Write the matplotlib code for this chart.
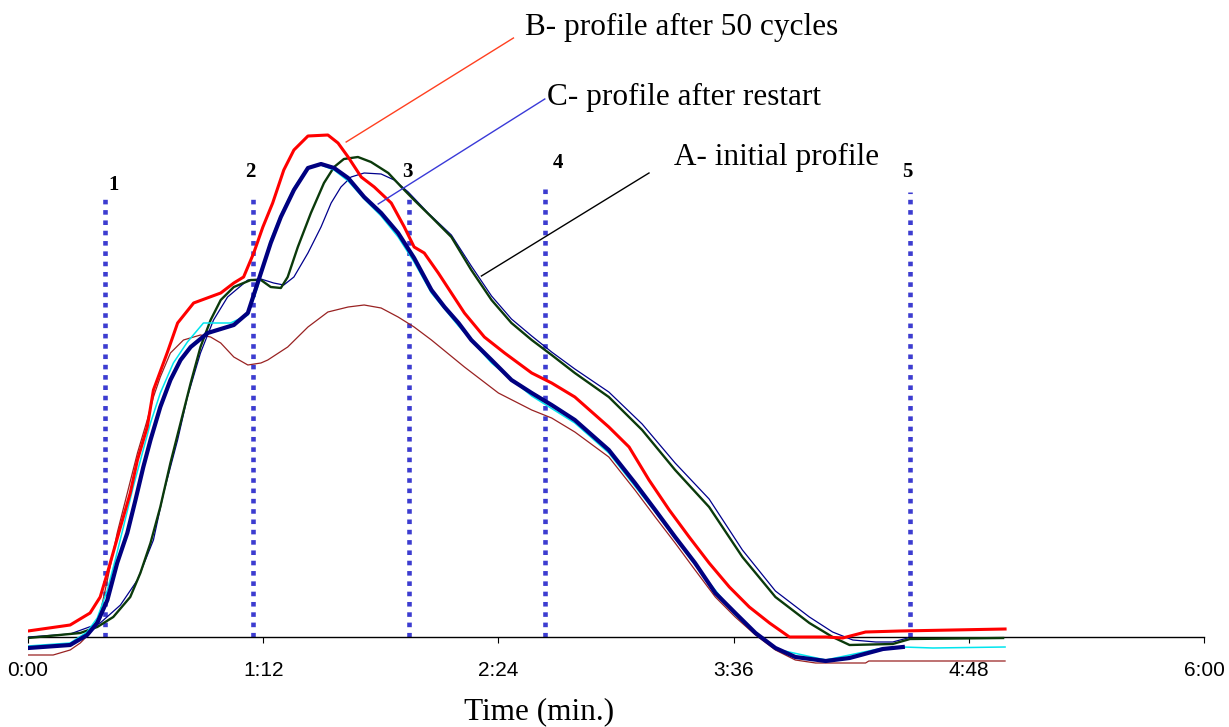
import matplotlib
matplotlib.use("Agg")
import matplotlib.pyplot as plt
from matplotlib.ticker import FuncFormatter, MultipleLocator

# ---- data (time in seconds, signal in arbitrary units) ----
red_t = [0, 12.9, 19.0, 22.1, 24.3, 28.3, 31.3, 33.5, 36.5, 38.4, 42.7, 45.8, 50.7, 59.0,
         63.0, 66.0, 69.1, 71.9, 74.9, 78.3, 81.4, 85.7, 91.8, 94.9, 98.0, 102.0, 106.0,
         111.2, 115.2, 118.2, 121.3, 125.6, 129.6, 133.6, 139.7, 145.9, 154.2, 160.3, 167.4,
         177.8, 184.0, 190.1, 196.3, 202.4, 208.5, 214.7, 220.8, 227.0, 233.1, 244.2, 249.4,
         256.4, 266.9, 299.1]
red_v = [1.2, 2.4, 4.8, 8.0, 12.8, 22.0, 28.8, 35.4, 42.0, 49.4, 57.0, 62.8, 66.8, 68.8,
         70.8, 72.0, 76.8, 82.0, 86.8, 93.4, 97.4, 100.2, 100.4, 98.8, 96.0, 92.0, 90.0,
         86.8, 82.0, 78.0, 76.8, 72.8, 68.8, 64.8, 60.0, 56.8, 52.8, 50.8, 48.0,
         42.0, 38.0, 31.4, 25.4, 20.0, 14.8, 10.0, 6.0, 2.8, 0.0, 0.0, -0.2,
         1.0, 1.2, 1.6]

navy_t = [0, 12.9, 18.1, 21.2, 24.3, 27.3, 30.4, 32.9, 35.3, 37.5, 40.5, 43.6, 46.7, 49.8,
          55.0, 63.0, 67.3, 71.3, 74.3, 77.4, 81.4, 85.7, 89.7, 93.7, 98.0, 102.9, 108.1,
          113.3, 118.2, 123.5, 127.5, 131.8, 135.7, 141.9, 148.0, 154.2, 160.3, 167.4, 177.8,
          185.8, 192.0, 198.1, 204.2, 210.4, 216.5, 222.7, 228.8, 234.9, 244.2, 251.5, 261.7,
          267.8]
navy_v = [-2.2, -1.6, 0.4, 2.8, 7.4, 14.8, 20.8, 27.4, 34.0, 39.4, 46.0, 51.4, 55.4, 58.0,
          60.8, 62.4, 64.8, 72.8, 78.8, 84.0, 89.4, 93.8, 94.6, 93.8, 91.8, 88.0, 84.8,
          80.8, 75.8, 69.4, 66.0, 62.8, 59.4, 55.4, 51.4, 48.8, 46.4, 43.4, 37.4,
          30.8, 25.4, 20.0, 14.8, 8.8, 4.8, 0.8, -2.2, -4.0, -4.8, -4.2, -2.4,
          -2.0]

cyan_t = [0, 12.9, 18.1, 21.2, 24.3, 26.7, 29.2, 32.2, 37.5, 40.5, 44.5, 48.8, 53.7, 62.0,
          67.3, 70.3, 74.3, 77.4, 81.4, 85.7, 89.7, 93.7, 98.0, 102.9, 108.1, 113.3, 118.2,
          123.5, 131.8, 141.9, 154.2, 167.4, 177.8, 192.0, 204.2, 216.5, 228.8, 244.2, 261.7,
          267.8, 277.0, 299.1]
cyan_v = [-1.8, -1.2, 1.0, 3.8, 9.4, 15.4, 22.0, 30.0, 42.8, 48.8, 54.8, 59.0, 62.8, 62.8,
          64.4, 70.0, 79.4, 84.4, 89.8, 94.0, 94.4, 93.4, 91.2, 87.6, 84.2, 80.0, 75.0,
          68.8, 62.2, 54.8, 48.2, 42.8, 36.8, 25.0, 14.4, 4.4, -2.4, -4.6, -2.2,
          -2.0, -2.2, -2.0]

green_t = [0, 16.0, 21.2, 26.1, 31.3, 34.4, 37.5, 40.5, 43.6, 46.7, 49.8, 52.8, 55.9, 59.0,
           63.0, 68.2, 71.3, 74.3, 77.4, 79.5, 82.6, 86.6, 90.6, 93.7, 96.7, 101.0, 105.0,
           110.3, 114.3, 118.2, 123.5, 129.6, 135.7, 141.9, 148.0, 154.2, 160.3, 167.4, 177.8,
           188.0, 198.1, 208.5, 218.7, 228.8, 239.2, 246.3, 251.5, 264.7, 270.0, 298.5]
green_v = [-0.2, 0.8, 2.0, 4.0, 8.0, 12.8, 18.8, 26.0, 34.8, 42.8, 50.8, 58.0, 63.4, 67.4,
           70.0, 71.4, 71.4, 70.0, 69.8, 72.0, 78.0, 84.8, 90.8, 94.0, 95.6, 96.0, 95.0,
           92.8, 90.0, 87.4, 84.0, 80.0, 73.4, 67.4, 62.8, 59.4, 56.4, 52.8, 48.0,
           41.4, 33.4, 26.0, 16.0, 8.0, 2.8, 0.0, -1.6, -1.4, -0.4, -0.2]

blue_t = [0, 12.9, 22.1, 28.3, 33.5, 38.4, 41.5, 45.8, 48.8, 52.8, 56.8, 61.1, 67.3, 71.3,
          75.2, 78.3, 81.4, 85.7, 89.7, 92.8, 95.8, 98.9, 102.9, 108.1, 112.1, 116.4, 122.5,
          129.6, 135.7, 141.9, 148.0, 154.2, 160.3, 167.4, 177.8, 188.0, 198.1, 208.5, 218.7,
          228.8, 239.2, 246.3, 252.5, 259.5, 264.7, 269.3]
blue_v = [0.0, 0.6, 2.8, 6.4, 11.4, 19.4, 28.8, 39.4, 48.0, 56.8, 63.4, 68.0, 71.4, 71.6,
          70.8, 70.4, 72.0, 76.8, 82.0, 86.8, 90.0, 92.0, 92.8, 92.6, 91.4, 89.0, 84.8,
          80.4, 74.2, 68.2, 63.6, 60.2, 57.0, 53.6, 49.0, 42.6, 34.8, 27.6, 17.4,
          9.2, 4.0, 1.0, -0.6, -1.0, -1.0, -0.2]

brown_t = [0, 7.7, 12.9, 16.0, 19.0, 22.1, 24.3, 27.3, 30.4, 33.5, 36.5, 38.4, 40.5, 43.6,
           47.6, 52.8, 55.9, 59.0, 63.0, 67.3, 71.3, 73.4, 79.5, 85.7, 91.8, 98.0, 102.9,
           108.1, 113.3, 118.2, 123.5, 133.6, 144.0, 154.2, 160.3, 167.4, 177.8, 185.8, 192.0,
           198.1, 204.2, 210.4, 216.5, 222.7, 228.8, 234.9, 241.1, 256.4, 257.4, 299.1]
brown_v = [-3.6, -3.6, -2.6, -1.2, 0.8, 4.8, 11.4, 20.8, 28.8, 36.8, 43.4, 48.0, 52.0, 56.8,
           59.4, 60.4, 60.0, 58.8, 56.0, 54.4, 54.8, 55.4, 58.0, 62.0, 65.0, 66.0, 66.4,
           65.8, 64.0, 62.0, 59.4, 54.0, 48.8, 45.4, 43.8, 41.0, 36.0, 29.4, 24.0,
           18.8, 13.4, 8.0, 4.0, 0.4, -2.6, -4.6, -5.2, -5.2, -4.8, -4.8]

# sampling points (vertical markers)
point_labels = ["1", "2", "3", "4", "5"]
point_t = [23.6, 68.8, 116.6, 158.3, 269.9]
point_top = [88.6, 88.4, 88.6, 90.6, 89.0]
label_dx = [2.5, -0.6, -0.6, 4.0, -0.6]      # label offset from its line, seconds
label_y = [90.4, 93.0, 93.0, 94.8, 93.0]

tick_step = 72  # seconds

# ---- figure ----
plt.rcParams["font.family"] = ["Liberation Sans", "DejaVu Sans"]
fig = plt.figure(figsize=(12.29, 7.27), dpi=100)
ax = fig.add_axes([28 / 1229, 60 / 727, 1176 / 1229, 652 / 727])
ax.set_xlim(0, 360)
ax.set_ylim(-6, 124.4)

marker_blue = "#3c3cd0"
for t, top in zip(point_t, point_top):
    ax.plot([t, t], [0, top], color=marker_blue, lw=3.3,
            linestyle=(0, (1, 1.25)), solid_capstyle="butt", dash_capstyle="butt", zorder=1)

ax.plot(brown_t, brown_v, color="#992222", lw=0.9, zorder=2)
ax.plot(blue_t, blue_v, color="#00008c", lw=0.9, zorder=3)
ax.plot(green_t, green_v, color="#0b3a0b", lw=1.7, zorder=4)
ax.plot(cyan_t, cyan_v, color="#00e5ee", lw=1.1, zorder=5)
ax.plot(red_t, red_v, color="#ff0000", lw=2.2, zorder=6)
ax.plot(navy_t, navy_v, color="#000080", lw=3.0, zorder=7)

for lab, t, dx, y in zip(point_labels, point_t, label_dx, label_y):
    ax.text(t + dx, y, lab, ha="center", va="center",
            family="Liberation Serif", fontweight="bold", fontsize=15)

# callouts
serif = "Liberation Serif"
ax.plot([148.6, 97.4], [119.8, 99.0], color="#ff4020", lw=1.0, clip_on=False, zorder=8)
ax.text(152.0, 122.0, "B- profile after 50 cycles", family=serif, fontsize=22.5,
        ha="left", va="center", clip_on=False)
ax.plot([158.2, 107.2], [107.6, 86.6], color="#3a3ad8", lw=1.0, clip_on=False, zorder=8)
ax.text(158.8, 108.0, "C- profile after restart", family=serif, fontsize=22.5,
        ha="left", va="center")
ax.plot([190.1, 138.8], [92.8, 72.2], color="black", lw=1.0, zorder=8)
ax.text(197.8, 96.0, "A- initial profile", family=serif, fontsize=22.5,
        ha="left", va="center")

# axes styling
for side in ("left", "right", "top"):
    ax.spines[side].set_visible(False)
ax.spines["bottom"].set_position(("data", 0))
ax.spines["bottom"].set_linewidth(1.0)
ax.yaxis.set_visible(False)
ax.xaxis.set_major_locator(MultipleLocator(tick_step))
ax.xaxis.set_major_formatter(FuncFormatter(lambda s, _: f"{int(s) // 60}:{int(s) % 60:02d}"))
ax.tick_params(axis="x", direction="out", length=4, width=0.8, pad=13, labelsize=15)

fig.text(539 / 1229, 1 - 712 / 727, "Time (min.)", family=serif, fontsize=22.5,
         ha="center", va="center")

fig.savefig("out.png", dpi=100)
